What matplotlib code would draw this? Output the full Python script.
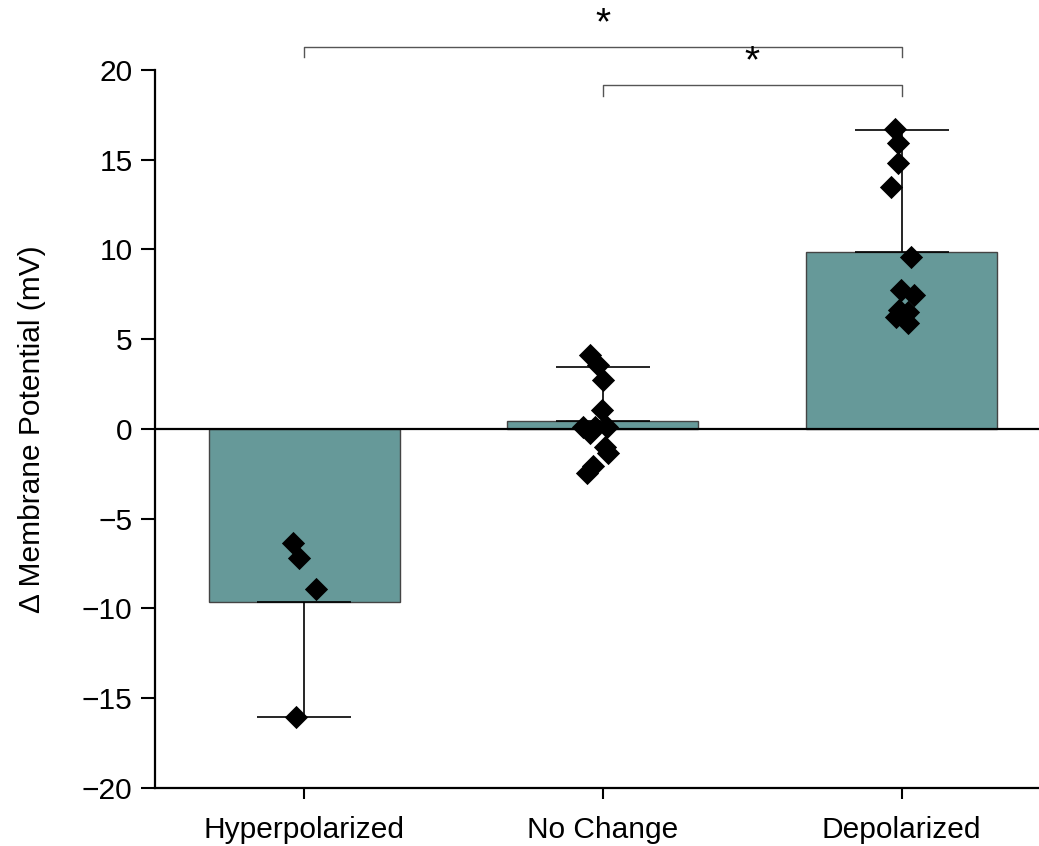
import matplotlib
matplotlib.use("Agg")
import matplotlib.pyplot as plt
import numpy as np

plt.rcParams['font.family'] = ['Liberation Sans', 'DejaVu Sans']

categories = ['Hyperpolarized', 'No Change', 'Depolarized']
bar_means = [-9.64, 0.45, 9.86]
bar_err = [6.40, 3.00, 6.80]   # one-sided, away from zero

# individual cells
hyper_pts = [-6.35, -7.19, -8.91, -16.04]
hyper_jit = [-0.037, -0.017, 0.040, -0.027]
nochange_pts = [4.12, 3.57, 2.73, 1.06, 0.11, 0.11, 0.11, -0.22, -1.00, -1.34, -2.06, -2.45]
nochange_jit = [-0.044, -0.017, 0.000, -0.003, -0.067, -0.027, 0.013, -0.044, 0.007, 0.017, -0.034, -0.054]
depol_pts = [16.71, 15.93, 14.82, 13.48, 9.58, 7.74, 7.47, 6.63, 6.52, 6.24, 5.91]
depol_jit = [-0.023, -0.013, -0.013, -0.037, 0.033, -0.003, 0.040, -0.010, 0.023, -0.020, 0.020]

# significance brackets: (left, right, height, label)
sig_pairs = [(0, 2, 21.3, '*'), (1, 2, 19.15, '*')]

bar_color = '#669999'

fig = plt.figure(figsize=(10.39, 8.46), dpi=100)
ax = fig.add_axes([0.149, 0.0686, 0.851, 0.8487])

x = np.arange(len(categories))
ax.bar(x, bar_means, width=0.64, color=bar_color, edgecolor='#444444', linewidth=1, zorder=2)

# one-sided error bars
lower = [bar_err[i] if bar_means[i] < 0 else 0 for i in range(3)]
upper = [bar_err[i] if bar_means[i] >= 0 else 0 for i in range(3)]
ax.errorbar(x, bar_means, yerr=[lower, upper], fmt='none', ecolor='black',
            elinewidth=1.2, capsize=34, capthick=1.2, zorder=3)

for i, (pts, jit) in enumerate([(hyper_pts, hyper_jit), (nochange_pts, nochange_jit), (depol_pts, depol_jit)]):
    ax.scatter(i + np.array(jit), pts, marker='D', s=140, color='black', zorder=4, linewidths=0)

ax.axhline(0, color='black', linewidth=1.6, zorder=3)

for l, r, h, lab in sig_pairs:
    ax.plot([l, l, r, r], [h - 0.6, h, h, h - 0.6], color='#555555', linewidth=1, clip_on=False)
    ax.text((l + r) / 2, h + 0.25, lab, ha='center', va='bottom', fontsize=28, clip_on=False)

ax.set_xlim(-0.5, 2.46)
ax.set_ylim(-20, 20)
ax.set_yticks(np.arange(-20, 21, 5))
ax.set_yticklabels([str(v).replace('-', '\u2212') for v in range(-20, 21, 5)])
ax.set_xticks(x)
ax.set_xticklabels(categories)
ax.set_ylabel('\u0394 Membrane Potential (mV)', fontsize=21.5, labelpad=26)
ax.tick_params(axis='both', labelsize=21.5, width=1.5, direction='out')
ax.tick_params(axis='y', length=10, pad=6)
ax.tick_params(axis='x', length=8, pad=12)
for s in ['top', 'right']:
    ax.spines[s].set_visible(False)
for s in ['left', 'bottom']:
    ax.spines[s].set_linewidth(1.6)

fig.savefig('out.png', dpi=100)
